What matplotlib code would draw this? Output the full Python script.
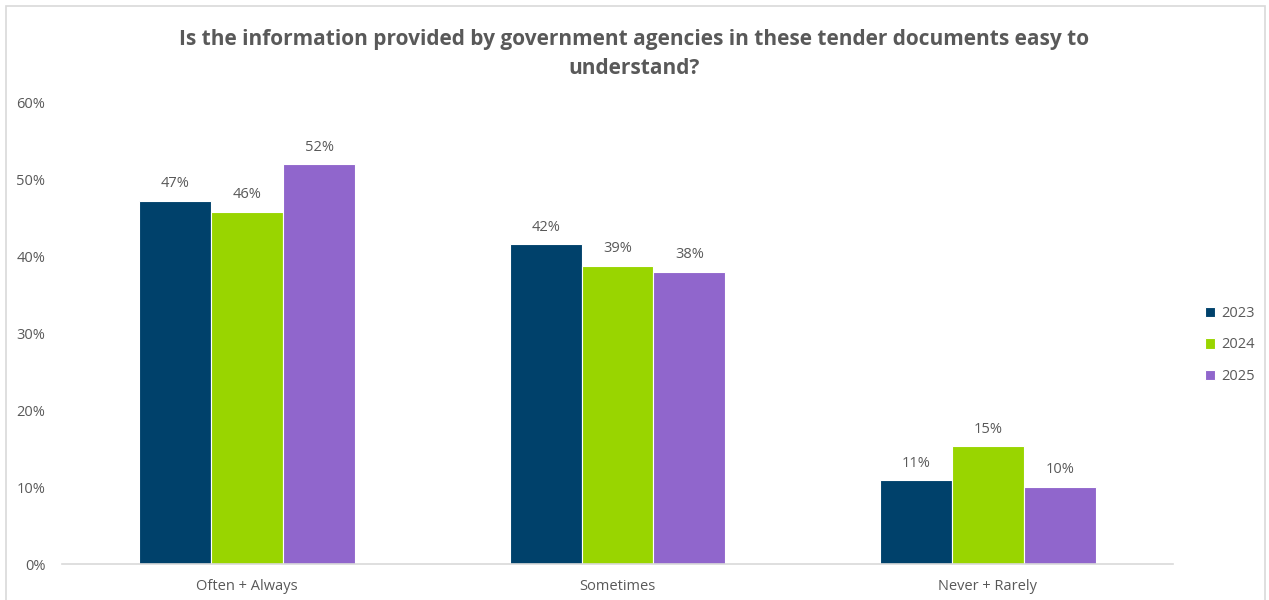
import numpy as np
import matplotlib.pyplot as plt
from matplotlib.patches import Rectangle

plt.rcParams['font.family'] = ['Open Sans', 'DejaVu Sans']

categories = ['Often + Always', 'Sometimes', 'Never + Rarely']
years = ['2023', '2024', '2025']
v2023 = [47.3, 41.6, 10.9]
v2024 = [45.8, 38.8, 15.3]
v2025 = [52.0, 38.0, 10.0]
series = [v2023, v2024, v2025]
colors = ['#00416B', '#99D500', '#9066CC']
grey = '#595959'

fig = plt.figure(figsize=(12.69, 6.0), dpi=100)
fig.patches.append(Rectangle((6 / 1269, -0.1), 1259 / 1269, 1.09, transform=fig.transFigure,
                             fill=False, edgecolor='#D9D9D9', linewidth=1.2))
ax = fig.add_axes([62 / 1269, 36 / 600, 1111 / 1269, 461 / 600])

x = np.arange(len(categories))
w = 0.194
for i, (vals, c, yr) in enumerate(zip(series, colors, years)):
    bars = ax.bar(x + (i - 1) * w, vals, w, color=c, edgecolor='white', linewidth=0.8, label=yr)
    for b, v in zip(bars, vals):
        ax.annotate(f'{v:.0f}%', (b.get_x() + b.get_width() / 2, v), xytext=(0, 7),
                    textcoords='offset points', ha='center', va='bottom', fontsize=10.5, color=grey)

ax.set_xlim(-0.5, 2.5)
ax.set_ylim(0, 60)
ax.set_yticks(range(0, 61, 10))
ax.set_yticklabels([f'{t}%' for t in range(0, 61, 10)])
ax.set_xticks(x)
ax.set_xticklabels(categories)
ax.tick_params(length=0, labelsize=10.5, colors=grey)
ax.tick_params(axis='y', pad=12)
ax.tick_params(axis='x', pad=11)
for s in ['top', 'right', 'left']:
    ax.spines[s].set_visible(False)
ax.spines['bottom'].set_color('#D9D9D9')
ax.spines['bottom'].set_linewidth(1.2)

fig.text(0.5, 1 - 54 / 600, 'Is the information provided by government agencies in these tender documents easy to\nunderstand?',
         ha='center', va='center', fontsize=15, fontweight='bold', color=grey, linespacing=1.5)

fig.legend(loc='center left', bbox_to_anchor=(1192 / 1269, 1 - 345 / 600), frameon=False,
           fontsize=10.5, labelcolor=grey, handlelength=0.7, handleheight=0.7,
           handletextpad=0.4, labelspacing=1.12)

fig.savefig('out.png', dpi=100)
